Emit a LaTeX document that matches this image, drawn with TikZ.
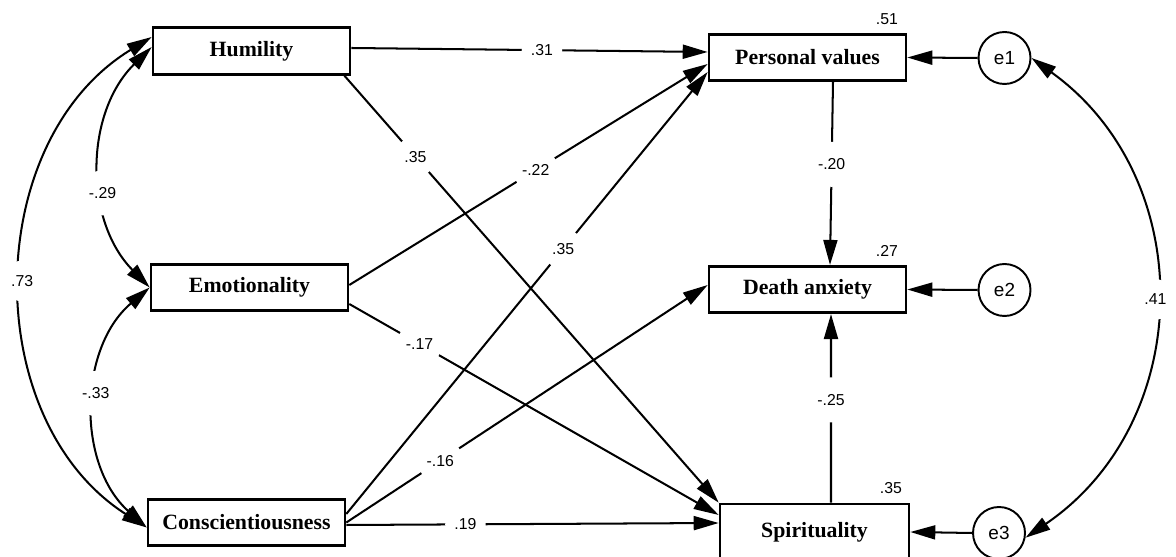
\documentclass[tikz,border=0pt]{standalone}
\usepackage{fontspec}
\setmainfont{Liberation Serif}
\setsansfont{Liberation Sans}
\usetikzlibrary{arrows.meta}

\begin{document}
\begin{tikzpicture}[
		x=0.02cm, y=0.02cm,
		b/.style = {rectangle, draw, line width=1.5pt, minimum width=3.94cm, minimum height=0.93cm, inner sep=0pt, font=\bfseries\fontsize{12.4}{14}\selectfont},
		u/.style = {circle, draw, line width=1.1pt, minimum size=1.04cm, inner sep=0pt, font=\sffamily\fontsize{10.8}{12}\selectfont},
		r/.style = {-{Triangle[length=0.5cm, width=0.28cm]}, line width=1.15pt},
		c/.style = {{Triangle[length=0.5cm, width=0.28cm]}-{Triangle[length=0.5cm, width=0.28cm]}, line width=1.15pt},
		w/.style = {circle, fill=white, inner sep=3.3pt, font=\sffamily\fontsize{9}{10}\selectfont},
		sq/.style = {anchor=south east, inner sep=0pt, font=\sffamily\fontsize{9}{10}\selectfont}
		]
		\useasboundingbox (0,0) rectangle (1176,557);
		\clip (0,0) rectangle (1176,557);
		
		%Nodes
		\node[b]	(hum)	at	(251.5, 506)	{Humility};
		\node[b]	(emo)	at	(249.5, 269.5)	{Emotionality};
		\node[b]	(con)	at	(246.5, 34.5)	{Conscientiousness};
		\node[b]	(pv)	at	(807.5, 499.5)	{Personal values};
		\node[b]	(da)	at	(807.5, 267.5)	{Death anxiety};
		\node[b, minimum width=3.78cm, minimum height=1.12cm]	(spi)	at	(814.5, 25)	{Spirituality};
		\node[u]	(e1)	at	(1004.5, 499)	{e1};
		\node[u]	(e2)	at	(1004.5, 267)	{e2};
		\node[u]	(e3)	at	(999, 24)		{e3};
		\node[sq]	(r1)	at	([xshift=-0.18cm, yshift=0.16cm]pv.north east)	{.51};
		\node[sq]	(r2)	at	([xshift=-0.18cm, yshift=0.16cm]da.north east)	{.27};
		\node[sq]	(r3)	at	([xshift=-0.16cm, yshift=0.18cm]spi.north east)	{.35};
		
		%Lines
		\draw[r]	([yshift=0.06cm]hum.east)	to	node[w, pos=0.535]	{.31}	([yshift=0.11cm]pv.west);
		\draw[r]	([xshift=-0.14cm]hum.south east)	to	node[w, pos=0.19]	{.35}	(spi.north west);
		\draw[r]	([yshift=0.05cm]emo.east)	to	node[w, pos=0.52]	{-.22}	([yshift=-0.13cm]pv.west);
		\draw[r]	([yshift=-0.33cm]emo.east)	to	node[w, pos=0.19]	{-.17}	([yshift=0.34cm]spi.west);
		\draw[r]	([yshift=0.17cm]con.east)	to	node[w, pos=0.6]	{.35}	([yshift=-0.29cm]pv.west);
		\draw[r]	(con.east)	to	node[w, pos=0.26]	{-.16}	([yshift=0.09cm]da.west);
		\draw[r]	([yshift=-0.05cm]con.east)	to	node[w, pos=0.32]	{.19}	([yshift=0.18cm]spi.west);
		\draw[r]	([xshift=0.51cm]pv.south)	to	node[w, pos=0.45]	{-.20}	([xshift=0.45cm]da.north);
		\draw[r]	([xshift=0.33cm]spi.north)	to	node[w, pos=0.545]	{-.25}	([xshift=0.47cm]da.south);
		\draw[r]	(e1.west)	to	(pv.east);
		\draw[r]	(e2.west)	to	(da.east);
		\draw[r]	(e3.west)	to	(spi.east);
		
		%Covariances
		\draw[c]	([yshift=0.28cm]hum.west)	to[bend right=58, looseness=1.04]	node[w]	{.73}	([yshift=-0.1cm]con.west);
		\draw[c]	([yshift=0.08cm]hum.west)	to[bend right=45]	node[w, pos=0.6]	{-.29}	(emo.west);
		\draw[c]	(emo.west)	to[bend right=49]	node[w, pos=0.45]	{-.33}	([yshift=-0.1cm]con.west);
		\draw[c]	(e1.east)	to[bend left=55, looseness=1.1]	node[w]	{.41}	(e3.-10);
	\end{tikzpicture}
\end{document}
